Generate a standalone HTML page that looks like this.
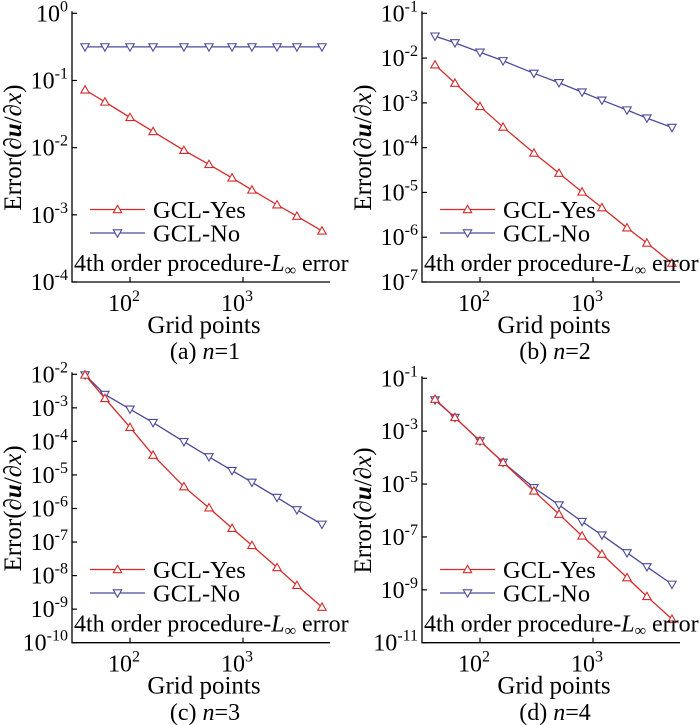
<!DOCTYPE html>
<html><head><meta charset="utf-8"><style>
html,body{margin:0;padding:0;background:#fff;}
svg{display:block;font-family:"Liberation Serif",serif;}
</style></head><body>
<svg id="fig" width="700" height="725" viewBox="0 0 700 725"></svg>
<script>
const gridPoints = [40, 60, 100, 160, 300, 500, 800, 1200, 2000, 3000, 5000];
const xTickExps = [2, 3];
// log10 error values per panel
const aYes = [-1.14,-1.32,-1.55,-1.76,-2.04,-2.25,-2.45,-2.63,-2.85,-3.02,-3.24];
const aNo  = [-0.50,-0.50,-0.50,-0.50,-0.50,-0.50,-0.50,-0.50,-0.50,-0.50,-0.50];
const bYes = [-2.15,-2.56,-3.08,-3.54,-4.12,-4.57,-4.99,-5.34,-5.79,-6.13,-6.58];
const bNo  = [-1.51,-1.66,-1.87,-2.06,-2.34,-2.55,-2.76,-2.94,-3.16,-3.34,-3.55];
const cYes = [-2.02,-2.72,-3.58,-4.41,-5.35,-5.98,-6.59,-7.10,-7.76,-8.29,-8.94];
const cNo  = [-2.02,-2.60,-3.04,-3.44,-4.01,-4.46,-4.87,-5.22,-5.67,-6.04,-6.47];
const dYes = [-1.79,-2.48,-3.37,-4.18,-5.26,-6.14,-6.96,-7.65,-8.54,-9.25,-10.11];
const dNo  = [-1.82,-2.48,-3.37,-4.18,-5.14,-5.79,-6.42,-6.93,-7.60,-8.13,-8.79];
const aTicks = [0,-1,-2,-3,-4];
const bTicks = [-1,-2,-3,-4,-5,-6,-7];
const cTicks = [-2,-3,-4,-5,-6,-7,-8,-9,-10];
const dTicks = [-1,-3,-5,-7,-9,-11];
const captions = ["(a) ","(b) ","(c) ","(d) "];
const nVals = ["1","2","3","4"];

const NS="http://www.w3.org/2000/svg";
const svg=document.getElementById('fig');
function mk(tag,attrs,parent){const e=document.createElementNS(NS,tag);for(const k in attrs)e.setAttribute(k,attrs[k]);(parent||svg).appendChild(e);return e;}

const panels=[
 {ox:0,oy:0,top:13.3,bot:282,ymax:0,ymin:-4,ticks:aTicks,yes:aYes,no:aNo,cy:359},
 {ox:350,oy:0,top:13.3,bot:282,ymax:-1,ymin:-7,ticks:bTicks,yes:bYes,no:bNo,cy:359},
 {ox:0,oy:360,top:14.3,bot:282.7,ymax:-2,ymin:-10,ticks:cTicks,yes:cYes,no:cNo,cy:360},
 {ox:350,oy:360,top:18.3,bot:282.7,ymax:-1,ymin:-11,ticks:dTicks,yes:dYes,no:dNo,cy:360}
];
const RED="#d42a2a", BLUE="#4a4a9a";
const L=72,R=330;
function xs(v){return 130+(Math.log10(v)-2)*113;}

panels.forEach((p,i)=>{
 const g=mk('g',{transform:`translate(${p.ox},${p.oy})`});
 
 
 const ys=v=>p.top+(p.ymax-v)/(p.ymax-p.ymin)*(p.bot-p.top);
 const ax=mk('path',{d:`M${L},${p.top-2}V${p.bot}H${R}`,fill:'none',stroke:'#000','stroke-width':1.3},g);
 
 
 p.ticks.forEach(t=>{
  const y=ys(t);
  mk('line',{x1:L,x2:L+5,y1:y,y2:y,stroke:'#000','stroke-width':1.2},g);
  const tx=mk('text',{x:68,y:y+8,'text-anchor':'end','font-size':24},g);
  
  
  tx.innerHTML=`10<tspan dy="-10" font-size="16">${t}</tspan>`;
 });
 xTickExps.forEach(e=>{
  const x=xs(Math.pow(10,e));
  mk('line',{x1:x,x2:x,y1:p.bot,y2:p.bot-5,stroke:'#000','stroke-width':1.2},g);
  const tx=mk('text',{x:x-6,y:p.bot+29,'text-anchor':'middle','font-size':24},g);
  
  
  tx.innerHTML=`10<tspan dy="-10" font-size="16">${e}</tspan>`;
 });
 const xt=mk('text',{x:204,y:p.bot+51,'text-anchor':'middle','font-size':25},g);
 xt.textContent='Grid points';
 
 
 const yt=mk('text',{transform:`translate(21,${(p.top+p.bot)/2}) rotate(-90)`,'text-anchor':'middle','font-size':25},g);
 yt.innerHTML='Error(∂<tspan font-weight="bold" font-style="italic">u</tspan>/∂<tspan font-style="italic">x</tspan>)';
 
 
 const cap=mk('text',{x:205,y:p.cy,'text-anchor':'middle','font-size':24},g);
 cap.innerHTML=`${captions[i]}<tspan font-style="italic">n</tspan>=${nVals[i]}`;
 
 
 function tri(x,y,up){const s=4.2;return up?`M${x},${y-s}L${x+s},${y+s*0.75}L${x-s},${y+s*0.75}Z`:`M${x},${y+s}L${x+s},${y-s*0.75}L${x-s},${y-s*0.75}Z`;}
 const drawSeries=(vals,color,up,name)=>{
  const pts=vals.map((v,k)=>[xs(gridPoints[k]),ys(v)]);
  const pl=mk('polyline',{points:pts.map(q=>q.join(',')).join(' '),fill:'none',stroke:color,'stroke-width':1.3},g);
  
  
  pts.forEach(q=>{
   const m=mk('path',{d:tri(q[0],q[1],up),fill:'#fff',stroke:color,'stroke-width':1.1},g);
   
   
  });
 };
 drawSeries(p.no,BLUE,false,'gcl-no');
 drawSeries(p.yes,RED,true,'gcl-yes');
 const lg=mk('g',{},g);
 
 
 [[RED,true,'GCL-Yes',209.5],[BLUE,false,'GCL-No',233]].forEach(([c,up,lab,y])=>{
  mk('line',{x1:90,x2:145,y1:y,y2:y,stroke:c,'stroke-width':1.3},lg);
  mk('path',{d:tri(117.5,y,up),fill:'#fff',stroke:c,'stroke-width':1.1},lg);
  const t=mk('text',{x:153,y:y+8.5,'font-size':24.5},lg);
  t.textContent=lab;
  
  
 });
 const an=mk('text',{x:74,y:p.bot-11,'font-size':24},g);
 an.innerHTML='4th order procedure-<tspan font-style="italic">L</tspan><tspan font-size="16" dy="4">∞</tspan><tspan dy="-4"> error</tspan>';
 
 
});
</script>
</body></html>
